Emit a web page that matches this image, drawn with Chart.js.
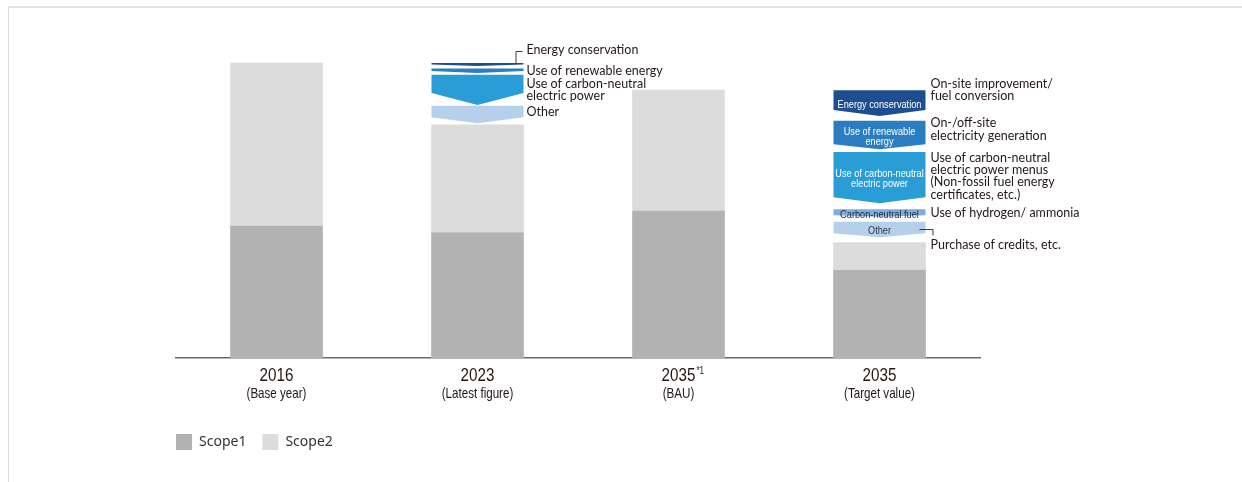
<!DOCTYPE html>
<html>
<head>
<meta charset="utf-8">
<script src="https://cdn.jsdelivr.net/npm/chart.js@4.4.1/dist/chart.umd.min.js"></script>
<style>
    html, body { margin: 0; padding: 0; background: #fff; }
    body { width: 1242px; height: 482px; position: relative; overflow: hidden; }
    .frame {
        position: absolute; left: 8px; top: 6px; right: -2px; bottom: -2px;
        border-top: 2px solid #e3e3e3; border-left: 1px solid #dadada; background: #fff;
    }
    #chart { position: absolute; left: 0; top: 0; }
</style>
</head>
<body>
<div class="frame"></div>
<canvas id="chart" width="1242" height="482"></canvas>
<script>
// categories and axis labels
const categories = ['2016', '2023', '2035 BAU', '2035 Target'];
const yearLabels = ['2016', '2023', '2035', '2035'];
const yearNotes = ['', '', '*1', ''];
const subLabels = ['(Base year)', '(Latest figure)', '(BAU)', '(Target value)'];

// emissions, index 2016 total = 100
const scope1 = [44.7, 42.4, 49.8, 29.7];
const scope2 = [55.3, 36.6, 41.0, 9.4];

// reduction measures as [from, to] ranges
const energyConservation = [null, [99.0, 100.0], null, [82.0, 90.8]];
const renewableEnergy = [null, [96.6, 98.1], null, [70.8, 80.4]];
const carbonNeutralPower = [null, [85.8, 96.0], null, [52.5, 69.8]];
const carbonNeutralFuel = [null, null, null, [47.9, 50.4]];
const otherMeasures = [null, [79.6, 85.5], null, [40.9, 46.2]];

const reductionNames = ['Energy conservation', 'Use of renewable energy', 'Use of carbon-neutral electric power', 'Carbon-neutral fuel', 'Other'];
const reductionRanges = [energyConservation, renewableEnergy, carbonNeutralPower, carbonNeutralFuel, otherMeasures];

// texts next to / inside the arrows
const sideLabels2023 = [['Energy conservation'], ['Use of renewable energy'], ['Use of carbon-neutral', 'electric power'], [], ['Other']];
const sideLabelsTarget = [
    ['On-site improvement/', 'fuel conversion'],
    ['On-/off-site', 'electricity generation'],
    ['Use of carbon-neutral', 'electric power menus', '(Non-fossil fuel energy', 'certificates, etc.)'],
    ['Use of hydrogen/ ammonia'],
    ['Purchase of credits, etc.']
];
const innerLabelsTarget = [['Energy conservation'], ['Use of renewable', 'energy'], ['Use of carbon-neutral', 'electric power'], ['Carbon-neutral fuel'], ['Other']];

// styles
const scopeColors = ['#b2b2b2', '#dcdcdc'];
const reductionColors = ['#1d4e8f', '#2b7dc1', '#2a9dd6', '#7eaedd', '#b6cfea'];
const innerTextColors = ['#ffffff', '#ffffff', '#ffffff', '#1c2b45', '#2b3a55'];
const tipDepth = [[0, 1.5, 0, 6], [0, 2, 0, 5], [0, 12, 0, 6], [0, 0, 0, 1.5], [0, 6, 0, 4]];
const side2023Dy = [-14.5, 0, 0, 0, -2.5];
const sideTargetDy = [-13.5, -5.5, -1.5, 0, 15.5];
const textColor = '#231815';
const labelFont = '12.5px Lato, "Noto Sans", sans-serif';
const narrowFamily = '"Liberation Sans", Arial, sans-serif';
const narrowScale = 0.8;

function drawLines(ctx, lines, x, cy, lh) {
    const y0 = cy - (lines.length - 1) * lh / 2;
    lines.forEach((t, j) => ctx.fillText(t, x, y0 + j * lh));
}

// condensed text: squeeze the glyphs horizontally
function narrowText(ctx, text, x, y) {
    ctx.save();
    ctx.translate(x, y);
    ctx.scale(narrowScale, 1);
    ctx.fillText(text, 0, 0);
    ctx.restore();
}

// arrows (pentagon shapes) drawn on the bar elements of the reduction datasets
const arrowPlugin = {
    id: 'arrows',
    afterDatasetsDraw(chart) {
        const ctx = chart.ctx;
        ctx.save();
        reductionRanges.forEach((range, k) => {
            const meta = chart.getDatasetMeta(k + 2);
            meta.data.forEach((bar, i) => {
                if (!range[i]) return;
                const p = bar.getProps(['x', 'y', 'base', 'width'], true);
                const top = Math.min(p.y, p.base);
                const bottom = Math.max(p.y, p.base);
                const l = p.x - p.width / 2;
                const r = p.x + p.width / 2;
                const d = tipDepth[k][i];
                ctx.beginPath();
                ctx.moveTo(l, top);
                ctx.lineTo(r, top);
                ctx.lineTo(r, bottom - d);
                ctx.lineTo(p.x, bottom);
                ctx.lineTo(l, bottom - d);
                ctx.closePath();
                ctx.fillStyle = reductionColors[k];
                ctx.fill();
            });
        });
        ctx.restore();
    },
    afterDraw(chart) {
        const ctx = chart.ctx;
        const xs = chart.scales.x;
        const area = chart.chartArea;
        ctx.save();
        ctx.textBaseline = 'middle';

        // x axis labels
        yearLabels.forEach((t, i) => {
            const x = xs.getPixelForValue(i);
            ctx.fillStyle = textColor;
            ctx.textAlign = 'center';
            ctx.font = '19px ' + narrowFamily;
            narrowText(ctx, t, x, area.bottom + 18);
            if (yearNotes[i]) {
                const w = ctx.measureText(t).width * narrowScale;
                ctx.font = '10px ' + narrowFamily;
                ctx.textAlign = 'left';
                narrowText(ctx, yearNotes[i], x + w / 2 + 1, area.bottom + 13);
            }
            ctx.textAlign = 'center';
            ctx.font = '14.5px ' + narrowFamily;
            narrowText(ctx, subLabels[i], x, area.bottom + 36);
        });

        // labels beside the arrows
        const drawSide = (idx, labels, dys, gap) => {
            labels.forEach((lines, k) => {
                const range = reductionRanges[k][idx];
                if (!range || !lines.length) return;
                const bar = chart.getDatasetMeta(k + 2).data[idx];
                const p = bar.getProps(['x', 'y', 'base', 'width'], true);
                const cy = (p.y + p.base) / 2 + dys[k];
                ctx.font = labelFont;
                ctx.fillStyle = textColor;
                ctx.textAlign = 'left';
                drawLines(ctx, lines, p.x + p.width / 2 + gap, cy, 12.3);
            });
        };
        drawSide(1, sideLabels2023, side2023Dy, 3);
        drawSide(3, sideLabelsTarget, sideTargetDy, 5);

        // text inside target arrows
        innerLabelsTarget.forEach((lines, k) => {
            const bar = chart.getDatasetMeta(k + 2).data[3];
            const p = bar.getProps(['x', 'y', 'base', 'width'], true);
            ctx.font = '11.5px ' + narrowFamily;
            ctx.fillStyle = innerTextColors[k];
            ctx.textAlign = 'center';
            const cy = (p.y + p.base) / 2 + 1.5;
            const y0 = cy - (lines.length - 1) * 5;
            lines.forEach((t, j) => narrowText(ctx, t, p.x, y0 + j * 10));
        });

        // small leader lines
        ctx.strokeStyle = '#3a3a3a';
        ctx.lineWidth = 1;
        let b = chart.getDatasetMeta(2).data[1].getProps(['x', 'y', 'base', 'width'], true);
        let bx = b.x + b.width / 2 - 8;
        let top = Math.min(b.y, b.base);
        ctx.beginPath();
        ctx.moveTo(bx + 0.5, top + 1);
        ctx.lineTo(bx + 0.5, top - 11.5);
        ctx.lineTo(bx + 7, top - 11.5);
        ctx.stroke();
        b = chart.getDatasetMeta(6).data[3].getProps(['x', 'y', 'base', 'width'], true);
        bx = b.x + b.width / 2;
        const cy = Math.round((b.y + b.base) / 2) - 0.5;
        ctx.beginPath();
        ctx.moveTo(bx - 6, cy);
        ctx.lineTo(bx + 7.5, cy);
        ctx.lineTo(bx + 7.5, cy + 6);
        ctx.stroke();
        ctx.restore();
    }
};

const datasets = [
    {
        label: 'Scope1',
        data: scope1.map(v => [0, v]),
        backgroundColor: scopeColors[0]
    },
    {
        label: 'Scope2',
        data: scope2.map((v, i) => [scope1[i], scope1[i] + v]),
        backgroundColor: scopeColors[1]
    }
];
reductionRanges.forEach((range, k) => {
    datasets.push({
        label: reductionNames[k],
        data: range,
        backgroundColor: 'rgba(0,0,0,0)'
    });
});

const chart = new Chart(document.getElementById('chart'), {
    type: 'bar',
    data: { labels: categories, datasets: datasets },
    options: {
        responsive: false,
        animation: false,
        devicePixelRatio: 1,
        layout: { padding: { left: 160, right: 262, top: 33.5, bottom: 22 } },
        datasets: {
            bar: { grouped: false, barThickness: 92, borderWidth: 0 }
        },
        plugins: {
            tooltip: { enabled: false },
            legend: {
                position: 'bottom',
                align: 'start',
                labels: {
                    filter: item => item.datasetIndex < 2,
                    boxWidth: 16,
                    boxHeight: 16,
                    padding: 16,
                    color: '#333',
                    font: { family: '"Noto Sans", sans-serif', size: 14 }
                }
            }
        },
        scales: {
            x: {
                grid: { display: false },
                ticks: { display: false },
                border: { color: '#6b6b6b', width: 1.5 },
                afterFit: s => { s.height = 60; }
            },
            y: {
                min: 0,
                max: 110,
                grid: { display: false },
                ticks: { display: false },
                border: { display: false },
                afterFit: s => { s.width = 16; }
            }
        }
    },
    plugins: [arrowPlugin]
});
</script>
</body>
</html>
